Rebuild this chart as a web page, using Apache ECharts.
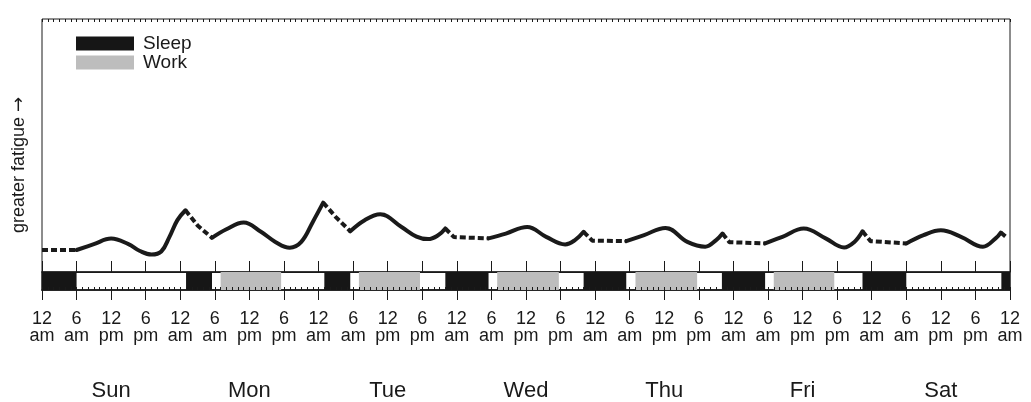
<!DOCTYPE html>
<html>
<head>
<meta charset="utf-8">
<script src="https://cdn.jsdelivr.net/npm/echarts@6/dist/echarts.min.js"></script>
<style>
html,body{margin:0;padding:0;background:#fff;}
#chart{width:1031px;height:402px;}
</style>
</head>
<body>
<div id="chart"></div>
<script>
// ---- data (hours from Sunday 12 am; fatigue in arbitrary units 0-100) ----
const dayNames = ['Sun', 'Mon', 'Tue', 'Wed', 'Thu', 'Fri', 'Sat'];
const tickLabels = ['12\nam', '6\nam', '12\npm', '6\npm'];

const sleepBlocks = [[0, 6], [25, 29.5], [49, 53.5], [70, 77.5], [94, 101.4], [118, 125.5], [142.4, 150], [166.5, 168]];
const workBlocks = [[31, 41.5], [55, 65.6], [79, 89.7], [103, 113.7], [127, 137.5]];

const asleepSunEarly = [[0, 8.7], [6, 8.7]];
const awakeSun = [[6, 8.7], [9, 11.0], [12, 13.2], [15, 11.0], [17, 8.3], [19, 6.9], [20.7, 8.1], [22.1, 13.8], [23.5, 20.5], [24.9, 24.4]];
const asleepSunNight = [[24.9, 24.4], [27, 18.4], [29.5, 13.5]];
const awakeMon = [[29.5, 13.5], [32, 16.9], [35, 19.6], [38, 15.9], [40.5, 11.9], [43, 9.6], [45, 11.9], [47, 19.8], [48.8, 27.4]];
const asleepMonNight = [[48.8, 27.4], [51, 21.7], [53.5, 16.1]];
const awakeTue = [[53.5, 16.1], [56, 20.5], [58.7, 22.8], [62.4, 17.8], [65, 14.0], [67, 13.0], [68.8, 14.6], [70, 17.2]];
const asleepTueNight = [[70, 17.2], [71.5, 13.8], [77.5, 13.3]];
const awakeWed = [[77.5, 13.3], [80.5, 15.2], [84.2, 17.8], [87.5, 13.9], [90.8, 10.9], [92.5, 12.6], [94, 15.9]];
const asleepWedNight = [[94, 15.9], [95.5, 12.4], [101.4, 12.2]];
const awakeThu = [[101.4, 12.2], [104.5, 14.6], [108.2, 17.4], [112, 11.9], [115.1, 10.0], [117, 12.6], [118.1, 15.2]];
const asleepThuNight = [[118.1, 15.2], [119.3, 11.8], [125.5, 11.3]];
const awakeFri = [[125.5, 11.3], [128.5, 13.9], [132.2, 17.2], [136, 13.3], [139.2, 9.7], [141, 11.9], [142.4, 16.1]];
const asleepFriNight = [[142.4, 16.1], [143.8, 12.2], [150, 11.3]];
const awakeSat = [[150, 11.3], [153, 14.6], [156, 16.5], [159.5, 13.9], [163.3, 10.0], [165.5, 13.3], [166.4, 15.6]];
const asleepSatNight = [[166.4, 15.6], [167.3, 13.9]];

// ---- build series data (gaps between segments) ----
function joinSegments(segs) {
  const out = [];
  segs.forEach(function (s, i) {
    if (i > 0) out.push([s[0][0], '-']);
    s.forEach(function (p) { out.push(p); });
  });
  return out;
}
const awakeData = joinSegments([awakeSun, awakeMon, awakeTue, awakeWed, awakeThu, awakeFri, awakeSat]);
const asleepData = joinSegments([asleepSunEarly, asleepSunNight, asleepMonNight, asleepTueNight, asleepWedNight, asleepThuNight, asleepFriNight, asleepSatNight]);

const FONT = '"Liberation Sans", Arial, Helvetica, sans-serif';
const INK = '#1a1a1a';

function blockRender(params, api) {
  const s = api.coord([api.value(0), 0]);
  const e = api.coord([api.value(1), 1]);
  return {
    type: 'rect',
    shape: { x: s[0], y: e[1], width: e[0] - s[0], height: s[1] - e[1] },
    style: { fill: api.visual('color') }
  };
}

const chart = echarts.init(document.getElementById('chart'), null, { renderer: 'canvas' });
chart.setOption({
  animation: false,
  backgroundColor: '#ffffff',
  textStyle: { fontFamily: FONT },
  grid: [
    { left: 42, right: 21, top: 19, height: 253, show: true, borderColor: INK, borderWidth: 1, backgroundColor: 'transparent' },
    { left: 42, right: 21, top: 272, height: 18, show: true, borderColor: INK, borderWidth: 1.5, backgroundColor: '#ffffff' }
  ],
  legend: {
    data: ['Sleep', 'Work'],
    orient: 'vertical',
    left: 76, top: 34,
    padding: 0,
    itemWidth: 58, itemHeight: 14, itemGap: 0,
    icon: 'rect',
    selectedMode: false,
    textStyle: { fontSize: 19, lineHeight: 18, color: INK, fontFamily: FONT, padding: [0, 0, 0, 4] }
  },
  xAxis: [
    { gridIndex: 0, type: 'value', min: 0, max: 168, interval: 6, position: 'top',
      axisLine: { show: true, lineStyle: { color: INK, width: 1 } },
      axisTick: { show: true, inside: false, length: 11, lineStyle: { color: INK, width: 1 } },
      axisLabel: { show: false }, splitLine: { show: false } },
    { gridIndex: 0, type: 'value', min: 0, max: 168, interval: 1, position: 'top',
      axisLine: { show: false },
      axisTick: { show: true, inside: true, length: 3, lineStyle: { color: INK, width: 1 } },
      axisLabel: { show: false }, splitLine: { show: false } },
    { gridIndex: 1, type: 'value', min: 0, max: 168, interval: 6, position: 'bottom',
      axisLine: { show: true, lineStyle: { color: INK, width: 1.5 } },
      axisTick: { show: true, inside: false, length: 10, lineStyle: { color: INK, width: 1 } },
      axisLabel: {
        show: true, margin: 21, color: INK, fontSize: 18, lineHeight: 17, fontFamily: FONT,
        verticalAlign: 'top',
        formatter: function (v) { return tickLabels[Math.round(v / 6) % 4]; }
      },
      splitLine: { show: false } },
    { gridIndex: 1, type: 'value', min: 0, max: 168, interval: 1, position: 'bottom', z: 10,
      axisLine: { show: false },
      axisTick: { show: true, inside: true, length: 3, lineStyle: { color: INK, width: 1 } },
      axisLabel: { show: false }, splitLine: { show: false } },
    { gridIndex: 1, type: 'category', data: dayNames, position: 'bottom', boundaryGap: true,
      axisLine: { show: false }, axisTick: { show: false },
      axisLabel: { show: true, margin: 90, color: INK, fontSize: 22, fontFamily: FONT, verticalAlign: 'top' },
      splitLine: { show: false } }
  ],
  yAxis: [
    { gridIndex: 0, type: 'value', min: 0, max: 100, show: false },
    { gridIndex: 1, type: 'value', min: 0, max: 1, show: false }
  ],
  graphic: [
    { type: 'text', x: 19, y: 165, rotation: Math.PI / 2,
      style: {
        text: 'greater fatigue {a|\u2192}', font: '18px ' + FONT, fill: INK, align: 'center', verticalAlign: 'middle',
        rich: { a: { fontFamily: '"DejaVu Sans", sans-serif', fontSize: 18, fill: INK } }
      } }
  ],
  series: [
    { name: 'Sleep', type: 'custom', xAxisIndex: 2, yAxisIndex: 1, renderItem: blockRender,
      itemStyle: { color: '#161616' }, data: sleepBlocks, z: 2 },
    { name: 'Work', type: 'custom', xAxisIndex: 2, yAxisIndex: 1, renderItem: blockRender,
      itemStyle: { color: '#bdbdbd' }, data: workBlocks, z: 2 },
    { name: 'awake', type: 'line', xAxisIndex: 0, yAxisIndex: 0, data: awakeData,
      smooth: 0.4, showSymbol: false, symbol: 'none', connectNulls: false,
      lineStyle: { color: INK, width: 4, cap: 'round', join: 'round' } },
    { name: 'asleep', type: 'line', xAxisIndex: 0, yAxisIndex: 0, data: asleepData,
      smooth: false, showSymbol: false, symbol: 'none', connectNulls: false,
      lineStyle: { color: INK, width: 4, type: [6, 3], cap: 'butt' } }
  ]
});
</script>
</body>
</html>
